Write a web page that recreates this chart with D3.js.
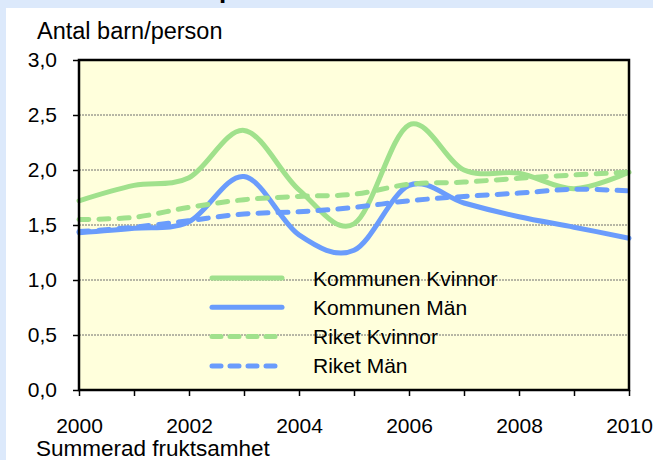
<!DOCTYPE html>
<html>
<head>
<meta charset="utf-8">
<script src="https://cdn.jsdelivr.net/npm/d3@7"></script>
<style>
  body { margin: 0; padding: 0; background: #ffffff; }
  text { font-family: Arial, "Liberation Sans", sans-serif; }
</style>
</head>
<body>
<svg id="chart" width="653" height="460"></svg>
<script>
// Data
var years = [2000, 2001, 2002, 2003, 2004, 2005, 2006, 2007, 2008, 2009, 2010];
var kommunenKvinnor = [1.72, 1.86, 1.93, 2.36, 1.82, 1.51, 2.41, 2.00, 1.97, 1.83, 1.98];
var kommunenMan = [1.43, 1.47, 1.53, 1.94, 1.41, 1.27, 1.86, 1.70, 1.575, 1.48, 1.38];
var riketKvinnor = [1.55, 1.57, 1.66, 1.73, 1.76, 1.78, 1.87, 1.89, 1.925, 1.955, 1.98];
var riketMan = [1.44, 1.48, 1.54, 1.60, 1.62, 1.66, 1.72, 1.76, 1.79, 1.825, 1.81];
var yTicks = [0, 0.5, 1, 1.5, 2, 2.5, 3];
var xLabels = [2000, 2002, 2004, 2006, 2008, 2010];
var seriesNames = ["Kommunen Kvinnor", "Kommunen Män", "Riket Kvinnor", "Riket Män"];

var green = "#a0e18c", blue = "#6a9cfc";

var series = [
  {name: seriesNames[0], values: kommunenKvinnor, color: green, dash: null},
  {name: seriesNames[1], values: kommunenMan, color: blue, dash: null},
  {name: seriesNames[2], values: riketKvinnor, color: green, dash: "10,10"},
  {name: seriesNames[3], values: riketMan, color: blue, dash: "10,10"}
];

var svg = d3.select("#chart"),
  width = +svg.attr("width"),
  height = +svg.attr("height");

var plot = {left: 79, top: 60, right: 629, bottom: 390};

var x = d3.scaleLinear().domain([2000, 2010]).range([plot.left, plot.right]);
var y = d3.scaleLinear().domain([0, 3]).range([plot.bottom, plot.top]);

// background frame (light blue band top + left)
svg.append("rect").attr("x", 0).attr("y", 0).attr("width", width).attr("height", height).attr("fill", "#dce9fb");
svg.append("rect").attr("x", 6).attr("y", 8).attr("width", width - 6).attr("height", height - 8).attr("fill", "#ffffff");

// bit of the title that shows above the panel
svg.append("text")
  .attr("x", 219).attr("y", -2)
  .style("font-size", "26px").style("font-weight", "bold")
  .text("p");

// plot area
svg.append("rect")
  .attr("x", plot.left).attr("y", plot.top)
  .attr("width", plot.right - plot.left).attr("height", plot.bottom - plot.top)
  .attr("fill", "#ffffdc");

// gridlines
svg.append("g")
  .selectAll("line")
  .data(yTicks.filter(function (d) { return d > 0 && d < 3; }))
  .enter().append("line")
  .attr("x1", plot.left).attr("x2", plot.right)
  .attr("y1", function (d) { return y(d); }).attr("y2", function (d) { return y(d); })
  .attr("stroke", "#6e6e6e").attr("stroke-width", 1).attr("stroke-dasharray", "2,1");

// y axis
var yAxis = d3.axisLeft(y).tickValues(yTicks).tickSize(6).tickPadding(16)
  .tickFormat(function (d) { return d3.format(".1f")(d).replace(".", ","); });
var gy = svg.append("g").attr("transform", "translate(" + plot.left + ",0)").call(yAxis);
gy.select(".domain").remove();
gy.selectAll("line").attr("stroke", "#000").attr("stroke-width", 1.5);
gy.selectAll("text").style("font-size", "21px").attr("fill", "#000")
  .style("font-family", "Arial, 'Liberation Sans', sans-serif");

// x axis, ticks every year, labels every second
var xAxis = d3.axisBottom(x).tickValues(years).tickSize(6).tickPadding(22)
  .tickFormat(function (d) { return xLabels.indexOf(d) >= 0 ? d : ""; });
var gx = svg.append("g").attr("transform", "translate(0," + plot.bottom + ")").call(xAxis);
gx.select(".domain").remove();
gx.selectAll("line").attr("stroke", "#000").attr("stroke-width", 1.5);
gx.selectAll("text").style("font-size", "21px").attr("fill", "#000")
  .style("font-family", "Arial, 'Liberation Sans', sans-serif");

// lines
var line = d3.line()
  .x(function (d, i) { return x(years[i]); })
  .y(function (d) { return y(d); })
  .curve(d3.curveCardinal);

svg.append("g")
  .selectAll("path")
  .data(series)
  .enter().append("path")
  .attr("d", function (d) { return line(d.values); })
  .attr("fill", "none")
  .attr("stroke", function (d) { return d.color; })
  .attr("stroke-width", 5)
  .attr("stroke-linecap", "round")
  .attr("stroke-dasharray", function (d) { return d.dash; });

// plot border
svg.append("rect")
  .attr("x", plot.left).attr("y", plot.top)
  .attr("width", plot.right - plot.left).attr("height", plot.bottom - plot.top)
  .attr("fill", "none").attr("stroke", "#000").attr("stroke-width", 2.5);

// legend
var legend = svg.append("g")
  .selectAll("g")
  .data(series)
  .enter().append("g")
  .attr("transform", function (d, i) { return "translate(212," + (278 + i * 29.3) + ")"; });
legend.append("line")
  .attr("x1", 0).attr("x2", 70).attr("y1", 0).attr("y2", 0)
  .attr("stroke", function (d) { return d.color; })
  .attr("stroke-width", 5)
  .attr("stroke-linecap", "round")
  .attr("stroke-dasharray", function (d) { return d.dash ? "9,9" : null; });
legend.append("text")
  .attr("x", 101).attr("y", 7.5)
  .style("font-size", "21px")
  .text(function (d) { return d.name; });

// axis titles
svg.append("text").attr("x", 37).attr("y", 39).style("font-size", "23.5px").text("Antal barn/person");
svg.append("text").attr("x", 36).attr("y", 456).style("font-size", "22.5px").text("Summerad fruktsamhet");
</script>
</body>
</html>
